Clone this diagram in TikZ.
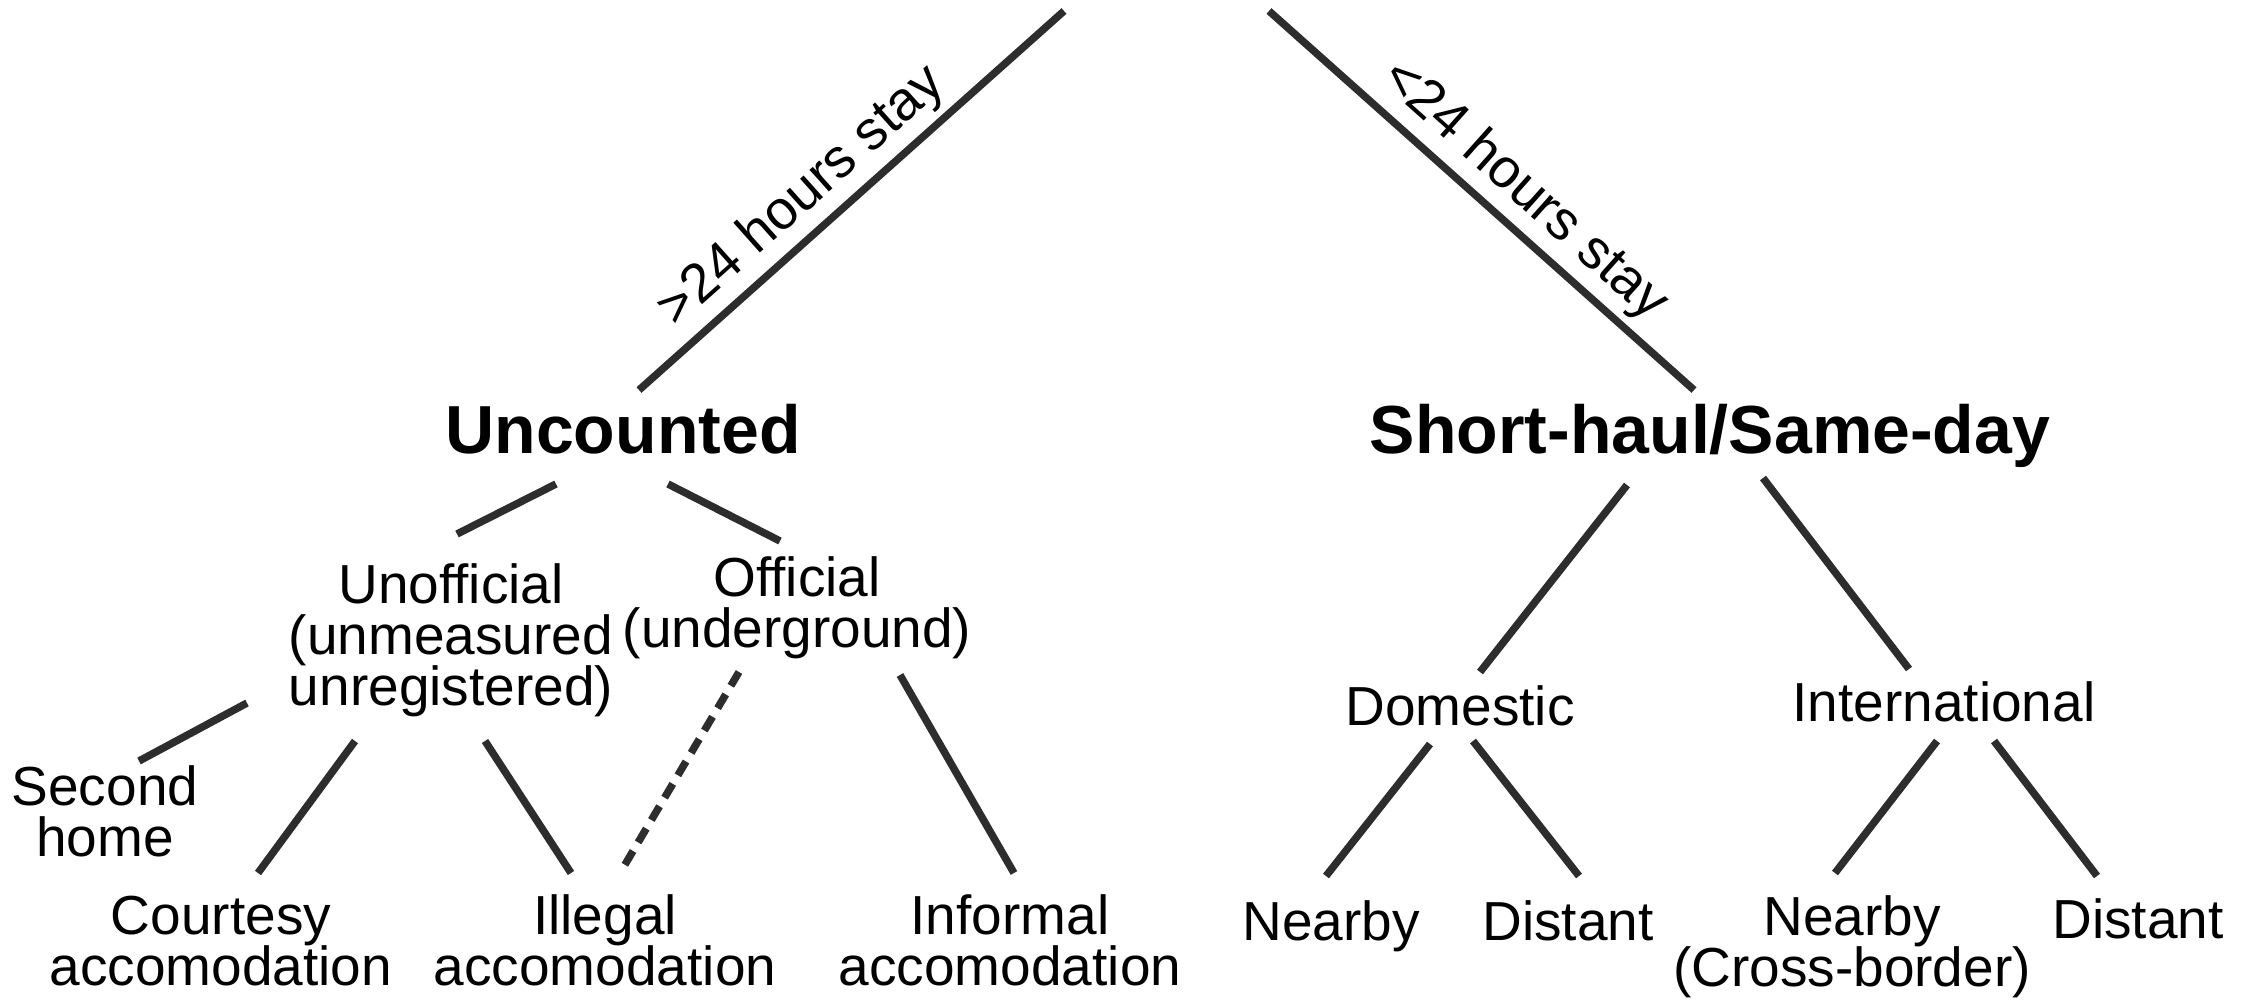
\documentclass[tikz,border=0pt]{standalone}
\usepackage{fontspec}
\setmainfont{Liberation Sans}
\definecolor{linegray}{RGB}{45,45,45}
\newcommand\catfont{\fontsize{55}{51}\selectfont\lineskiplimit=-50pt\relax}

\begin{document}
\begin{tikzpicture}[x=1pt,y=-1pt]

	\tikzset{cat/.style = {font=\catfont, align=center, anchor=base, inner sep=0pt}}
	\tikzset{head/.style = {font=\fontsize{68}{70}\bfseries, anchor=base, inner sep=0pt}}
	\tikzset{branch/.style = {draw=linegray, line width=7.5pt}}
	\tikzset{stay/.style = {font=\fontsize{55}{60}\selectfont, sloped, above, inner sep=6pt}}

	\useasboundingbox (0,0) rectangle (2251,999);

	\coordinate (topL) at (1064,11);
	\coordinate (topR) at (1269,11);

	\node[head] (unc) at (623,453) {Uncounted};
	\node[head] (sh)  at (1710,453) {Short-haul/Same-day};

	% multi-line nodes sit on their last baseline
	\node[cat] (unoff)  at (451,705) {Unofficial\\(unmeasured\\unregistered)};
	\node[cat] (off)    at (797,647) {Official\\(underground)};
	\node[cat] (second) at (105,856) {Second\\home};
	\node[cat] (court)    at (221,985) {Courtesy\\accomodation};
	\node[cat] (illegal)  at (605,985) {Illegal\\accomodation};
	\node[cat] (informal) at (1010,985) {Informal\\accomodation};

	\node[cat] (dom)   at (1460,725) {Domestic};
	\node[cat] (intl)  at (1944,721) {International};
	\node[cat] (near1) at (1331,940) {Nearby};
	\node[cat] (dist1) at (1568,940) {Distant};
	\node[cat] (near2) at (1852,986) {Nearby\\(Cross-border)};
	\node[cat] (dist2) at (2138,938) {Distant};

	\draw[branch] ([shift={(16,-63)}]unc.base) -- (topL) node[stay, pos=0.44] {>24 hours stay};
	\draw[branch] (topR) -- ([shift={(-16,-63)}]sh.base) node[stay, pos=0.545] {<24 hours stay};

	\draw[branch] ([shift={(-67,31)}]unc.base) -- ([shift={(6,-171)}]unoff.base);
	\draw[branch] ([shift={(45,31)}]unc.base) -- ([shift={(-17,-106)}]off.base);

	\draw[branch] ([shift={(-204,-2)}]unoff.base) -- ([shift={(34,-95)}]second.base);
	\draw[branch] ([shift={(-96,36)}]unoff.base) -- ([shift={(37,-112)}]court.base);
	\draw[branch] ([shift={(34,36)}]unoff.base) -- ([shift={(-34,-112)}]illegal.base);
	\draw[branch, dash pattern=on 16pt off 10pt] ([shift={(-58,25)}]off.base) -- ([shift={(15,-112)}]illegal.base);
	\draw[branch] ([shift={(103,28)}]off.base) -- ([shift={(4,-112)}]informal.base);

	\draw[branch] ([shift={(-83,32)}]sh.base) -- ([shift={(20,-53)}]dom.base);
	\draw[branch] ([shift={(53,25)}]sh.base) -- ([shift={(-35,-52)}]intl.base);

	\draw[branch] ([shift={(-30,19)}]dom.base) -- ([shift={(-5,-64)}]near1.base);
	\draw[branch] ([shift={(13,16)}]dom.base) -- ([shift={(11,-64)}]dist1.base);
	\draw[branch] ([shift={(-7,20)}]intl.base) -- ([shift={(-17,-113)}]near2.base);
	\draw[branch] ([shift={(50,20)}]intl.base) -- ([shift={(-41,-62)}]dist2.base);

\end{tikzpicture}
\end{document}
